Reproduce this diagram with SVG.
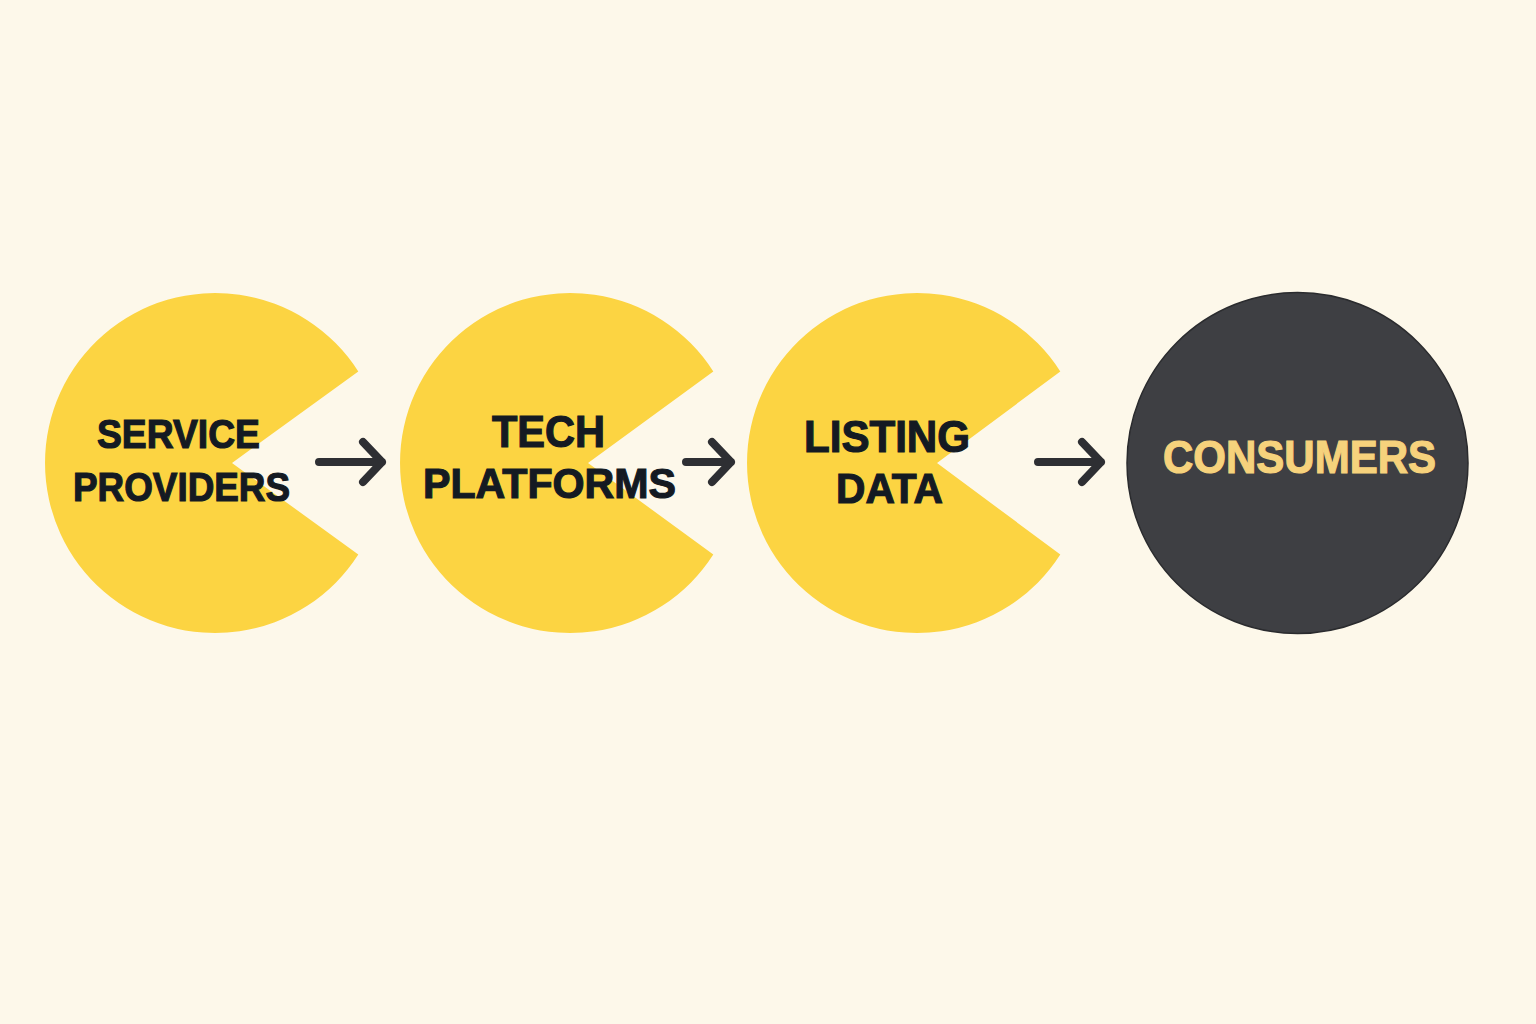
<svg xmlns="http://www.w3.org/2000/svg" width="1536" height="1024" viewBox="0 0 1536 1024">
<defs>
<style>
.pac{fill:#fcd442;}
.lbl{font-family:"Liberation Sans",Arial,sans-serif;font-weight:bold;fill:#141a22;stroke:#141a22;stroke-width:1.2;text-anchor:middle;}
.lbl2{font-family:"Liberation Sans",Arial,sans-serif;font-weight:bold;fill:#f6d27c;stroke:#f6d27c;stroke-width:1.2;text-anchor:middle;}
.arr{fill:none;stroke:#2e2f33;stroke-width:8;stroke-linecap:round;stroke-linejoin:round;}
</style>
</defs>
<rect width="1536" height="1024" fill="#fdf8ea"/>
<g id="node-service-providers">
<path class="pac" d="M232,463 L358.3,371.5 A170,170 0 1 0 358.3,554.5 Z"/>
<text class="lbl" x="178.5" y="448" font-size="41" textLength="163" lengthAdjust="spacingAndGlyphs">SERVICE</text>
<text class="lbl" x="181.5" y="501" font-size="41" textLength="217" lengthAdjust="spacingAndGlyphs">PROVIDERS</text>
</g>
<g id="node-tech-platforms">
<path class="pac" d="M588,463 L713.3,371.5 A170,170 0 1 0 713.3,554.5 Z"/>
<text class="lbl" x="548.5" y="447" font-size="44" textLength="113" lengthAdjust="spacingAndGlyphs">TECH</text>
<text class="lbl" x="549.5" y="498" font-size="43" textLength="253" lengthAdjust="spacingAndGlyphs">PLATFORMS</text>
</g>
<g id="node-listing-data">
<path class="pac" d="M937,463 L1060.3,371.5 A170,170 0 1 0 1060.3,554.5 Z"/>
<text class="lbl" x="887" y="452" font-size="45" textLength="166" lengthAdjust="spacingAndGlyphs">LISTING</text>
<text class="lbl" x="889.5" y="503" font-size="43" textLength="107" lengthAdjust="spacingAndGlyphs">DATA</text>
</g>
<g id="node-consumers">
<circle cx="1297.5" cy="463" r="170.5" fill="#3e3f43" stroke="#2a2b2e" stroke-width="1.5"/>
<text class="lbl2" x="1299.5" y="473" font-size="47" textLength="273" lengthAdjust="spacingAndGlyphs">CONSUMERS</text>
</g>
<g id="connectors">
<path class="arr" d="M319,462 L382,462 M363,442 L382,462 L363,482"/>
<path class="arr" d="M686,462 L731,462 M712,442 L731,462 L712,482"/>
<path class="arr" d="M1038,462 L1101,462 M1082,442 L1101,462 L1082,482"/>
</g>
</svg>
